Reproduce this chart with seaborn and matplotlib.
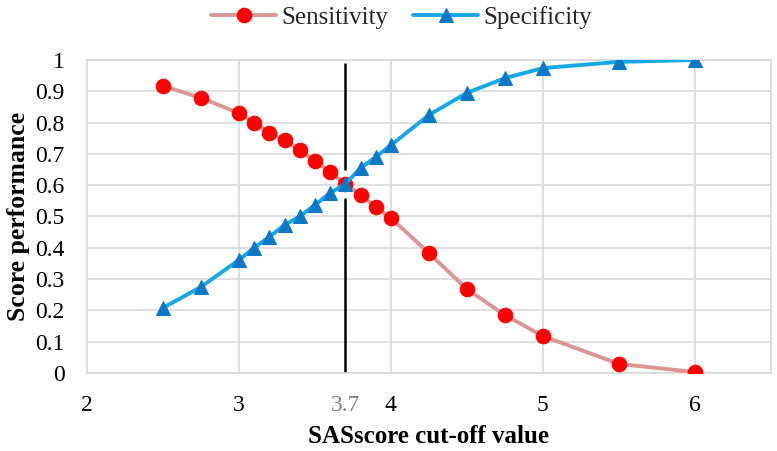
import matplotlib
matplotlib.use("Agg")
import matplotlib.pyplot as plt
import seaborn as sns
import pandas as pd

# ------------------------------------------
# Data
# ------------------------------------------
cutoff = [2.5, 2.75, 3.0, 3.1, 3.2, 3.3, 3.4, 3.5, 3.6, 3.7,
          3.8, 3.9, 4.0, 4.25, 4.5, 4.75, 5.0, 5.5, 6.0]
sensitivity = [0.917, 0.879, 0.830, 0.800, 0.767, 0.745, 0.712, 0.677, 0.642, 0.604,
               0.569, 0.530, 0.495, 0.383, 0.268, 0.185, 0.118, 0.029, 0.003]
specificity = [0.208, 0.275, 0.361, 0.400, 0.435, 0.473, 0.500, 0.537, 0.575, 0.604,
               0.655, 0.690, 0.728, 0.824, 0.895, 0.942, 0.974, 0.994, 1.000]
best_cutoff = 3.7
x_ticks = [2, 3, 4, 5, 6]
y_ticks = [0, 0.1, 0.2, 0.3, 0.4, 0.5, 0.6, 0.7, 0.8, 0.9, 1.0]
y_tick_labels = ["0", "0.1", "0.2", "0.3", "0.4", "0.5", "0.6", "0.7", "0.8", "0.9", "1"]

df = pd.DataFrame({"cutoff": cutoff,
                   "Sensitivity": sensitivity,
                   "Specificity": specificity})

sns.set_theme(style="white")
plt.rcParams["font.family"] = ["Liberation Serif", "DejaVu Serif"]

fig = plt.figure(figsize=(7.77, 4.51), dpi=100)
ax = fig.add_axes([0.112, 0.173, 0.880, 0.694])

grid_col = "#d9d9d9"
for v in y_ticks:
    ax.axhline(v, color=grid_col, lw=1.2, zorder=0)
for v in x_ticks[1:]:
    ax.axvline(v, color=grid_col, lw=1.2, zorder=0)

# cut-off reference line (gap around the crossing markers)
ax.vlines(best_cutoff, 0, 0.56, color="black", lw=1.8, zorder=1)
ax.vlines(best_cutoff, 0.65, 0.99, color="black", lw=1.8, zorder=1)

sns.lineplot(data=df, x="cutoff", y="Sensitivity", ax=ax, color="#d99694",
             lw=2.8, marker="o", markersize=10.5, markerfacecolor="#ff0000",
             markeredgecolor="#ff0000", label="Sensitivity", zorder=3)
sns.lineplot(data=df, x="cutoff", y="Specificity", ax=ax, color="#16a8e4",
             lw=2.8, marker="^", markersize=10.5, markerfacecolor="#0b78c8",
             markeredgecolor="#0b78c8", label="Specificity", zorder=4)

ax.set_xlim(2, 6.5)
ax.set_ylim(0, 1.0)
ax.set_xticks(x_ticks + [best_cutoff])
ax.set_xticklabels([str(t) for t in x_ticks] + [str(best_cutoff)])
ax.set_yticks(y_ticks)
ax.set_yticklabels(y_tick_labels)
ax.tick_params(axis="x", length=0, pad=16, labelsize=17, labelcolor="black")
ax.tick_params(axis="y", length=0, pad=16, labelsize=17, labelcolor="black")
ax.get_xticklabels()[-1].set_color("#808080")

for s in ax.spines.values():
    s.set_color(grid_col)
    s.set_linewidth(1.2)

ax.set_xlabel("SASscore cut-off value", fontsize=18, fontweight="bold",
              labelpad=6, color="black")
ax.set_ylabel("Score performance", fontsize=18.5, fontweight="bold",
              labelpad=4, color="black")

ax.legend(loc="upper center", bbox_to_anchor=(0.46, 1.245), ncol=2, frameon=False,
          fontsize=18, handlelength=2.6, columnspacing=1.0, handletextpad=0.2)

fig.savefig("out.png", dpi=100)
